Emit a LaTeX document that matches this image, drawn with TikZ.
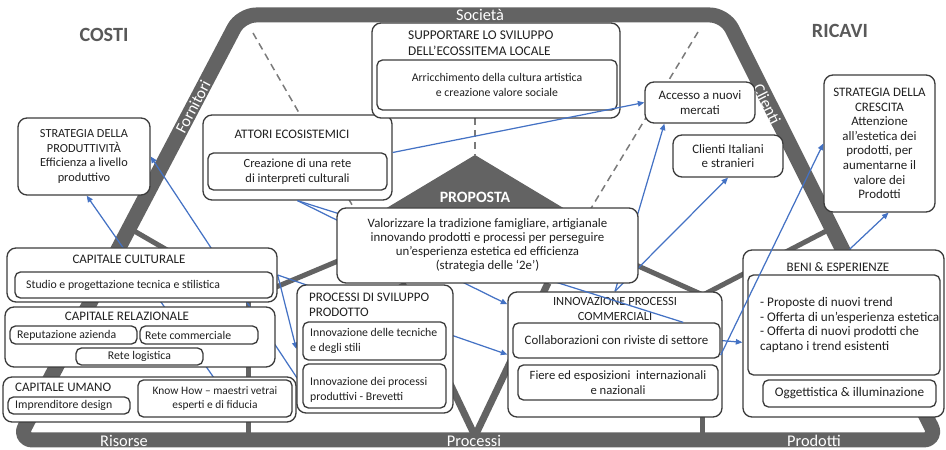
\documentclass[tikz,border=0pt]{standalone}
\usepackage{fontspec}
\setmainfont{Carlito}
\usetikzlibrary{arrows.meta,calc,fit,backgrounds}
\definecolor{bandgray}{RGB}{99,99,99}
\definecolor{boxline}{RGB}{60,60,60}
\definecolor{txtgray}{RGB}{32,32,32}
\definecolor{linkblue}{RGB}{68,114,196}
\definecolor{headgray}{RGB}{89,89,89}

\begin{document}
\begin{tikzpicture}[x=0.2mm,y=-0.2mm,>={Triangle[length=1.3mm,width=1.1mm]},
  every node/.style={font=\fontsize{6.7}{8.2}\selectfont, text=txtgray},
  bigtxt/.style={font=\fontsize{7.35}{8.3}\selectfont},
  captxt/.style={font=\fontsize{7.4}{8.6}\selectfont},
  frame/.style={draw=boxline, fill=white, line width=0.75pt, rounded corners=1.8mm, inner sep=0pt},
  inbox/.style={frame, rounded corners=1.1mm},
  band/.style={draw=bandgray, line width=3mm, rounded corners=3mm, line join=round},
  spoke/.style={draw=bandgray, line width=1mm},
  dashline/.style={draw=bandgray!85, line width=0.85pt, dash pattern=on 4pt off 2.8pt},
  bandlbl/.style={font=\fontsize{9.3}{9.3}\selectfont, text=white},
  head/.style={font=\bfseries\fontsize{11.5}{12}\selectfont, text=headgray},
  link/.style={draw=linkblue, line width=0.7pt}]
  \useasboundingbox (0,0) rectangle (946,450);

  % frame of the canvas
  \begin{scope}[on background layer]
    \draw[band] (18,440) -- (241,15) -- (725,15) -- (938,440) -- cycle;
    \draw[spoke] (129,228) -- (250,298) -- (400,235);
    \draw[spoke] (832,228) -- (703,295) -- (580,240);
    \draw[spoke, line width=1.4mm, line join=miter] (402,283) -- (475,436) -- (548,283);
    \draw[spoke] (248,300) -- (248,436);
    \draw[spoke] (702,400) -- (702,436);
    \fill[bandgray] (475,155) -- (380,212) -- (570,212) -- cycle;
    \draw[dashline] (253,33) -- (355,210);
    \draw[dashline] (475,118) -- (475,156);
    \draw[dashline] (698,32) -- (590,210);
  \end{scope}

  \node[head] (costi) at (104,35) {COSTI};
  \node[head] (ricavi) at (840,31) {RICAVI};
  \node[bandlbl] (soc) at (480,15) {Società};
  \node[bandlbl, rotate=62.3] (forn) at (193,107) {Fornitori};
  \node[bandlbl, rotate=-63.4] (cli) at (767,104) {Clienti};
  \node[bandlbl] (ris) at (124,441) {Risorse};
  \node[bandlbl] (proc) at (474,441) {Processi};
  \node[bandlbl] (prod) at (814,441) {Prodotti};
  \node[head, font=\bfseries\fontsize{9}{9}\selectfont, text=white] (propT) at (475,197) {PROPOSTA};

  % risorse
  \node[frame, fit={(18,118) (150,195)}] (sprod) {};
  \node[align=center, font=\fontsize{7}{8.3}\selectfont] (sprodT) at (sprod.center) {STRATEGIA DELLA\\PRODUTTIVITÀ\\Efficienza a livello\\produttivo};
  \node[frame, fit={(7,248) (277,302)}] (cult) {};
  \node[captxt] (cultT) at (129,259) {CAPITALE CULTURALE};
  \node[inbox, fit={(15,272) (273,298)}] (cultA) {};
  \node[anchor=west] (cultAT) at (20,285) {Studio e progettazione tecnica e stilistica};
  \node[frame, fit={(5,307) (275,367)}] (rel) {};
  \node[captxt] (relT) at (127,316) {CAPITALE RELAZIONALE};
  \node[inbox, fit={(10,326) (137,344)}] (rep) {};
  \node[anchor=west] (repT) at (11,335) {Reputazione azienda};
  \node[inbox, fit={(140,326) (258,344)}] (comm) {};
  \node[anchor=west] (commT) at (139,335) {Rete commerciale};
  \node[inbox, fit={(76,348) (203,365)}] (logi) {};
  \node (logiT) at (logi.center) {Rete logistica};
  \node[frame, fit={(3,377) (296,422)}] (uman) {};
  \node[captxt, anchor=west] (umanT) at (9,387) {CAPITALE UMANO};
  \node[inbox, fit={(8,397) (130,414)}] (impr) {};
  \node[anchor=west] (imprT) at (9,405.5) {Imprenditore design};
  \node[inbox, fit={(138,380) (292,417)}] (know) {};
  \node[align=center, font=\fontsize{6.5}{8.2}\selectfont] (knowT) at (know.center) {Know How – maestri vetrai\\esperti e di fiducia};

  % ecosistema
  \node[frame, fit={(203,115) (392,200)}] (attori) {};
  \node[captxt] (attoriT) at (292,134) {ATTORI ECOSISTEMICI};
  \node[inbox, fit={(208,153) (387,190)}] (attoriA) {};
  \node[align=center, font=\fontsize{7.1}{8.3}\selectfont] (attoriAT) at (attoriA.center) {Creazione di una rete\\di interpreti culturali};
  \node[frame, fit={(372,23) (620,118)}] (supp) {};
  \node[anchor=west, align=left, font=\fontsize{7.6}{9}\selectfont] (suppT) at (402,43) {SUPPORTARE LO SVILUPPO\\DELL'ECOSSITEMA LOCALE};
  \node[inbox, fit={(377,60) (617,110)}] (suppA) {};
  \node[align=center] (suppAT) at (suppA.center) {Arricchimento della cultura artistica\\e creazione valore sociale};

  % clienti e ricavi
  \node[frame, fit={(645,82) (755,123)}] (accesso) {};
  \node[align=center, bigtxt] (accessoT) at (accesso.center) {Accesso a nuovi\\mercati};
  \node[frame, fit={(673,135) (783,177)}] (clienti) {};
  \node[align=center, bigtxt] (clientiT) at (clienti.center) {Clienti Italiani\\e stranieri};
  \node[frame, fit={(824,75) (935,212)}] (scresc) {};
  \node[align=center, bigtxt] (screscT) at (scresc.center) {STRATEGIA DELLA\\CRESCITA\\Attenzione\\all'estetica dei\\prodotti, per\\aumentarne il\\valore dei\\Prodotti};

  % processi
  \node[frame, fit={(297,285) (453,413)}] (procS) {};
  \node[captxt, anchor=west, align=left] (procST) at (303,305) {PROCESSI DI SVILUPPO\\PRODOTTO};
  \node[inbox, fit={(303,322) (446,360)}] (procA) {};
  \node[anchor=west, align=left] (procAT) at (304,341) {Innovazione delle tecniche\\e degli stili};
  \node[inbox, fit={(303,364) (446,408)}] (procB) {};
  \node[anchor=west, align=left] (procBT) at (304,390) {Innovazione dei processi\\produttivi - Brevetti};
  \node[frame, fit={(508,292) (722,417)}] (innov) {};
  \node[align=center, font=\fontsize{7.1}{8.4}\selectfont] (innovT) at (615,309) {INNOVAZIONE PROCESSI\\COMMERCIALI};
  \node[inbox, fit={(513,323) (720,358)}] (collab) {};
  \node[bigtxt] (collabT) at (collab.center) {Collaborazioni con riviste di settore};
  \node[inbox, fit={(518,365) (718,400)}] (fiere) {};
  \node[align=center, font=\fontsize{7.2}{8.3}\selectfont] (fiereT) at (fiere.center) {Fiere ed esposizioni~ internazionali\\e nazionali};
  \draw[link] (attori.south) -- ($(collab.north west)!0.82!(collab.north east)$);

  % proposta
  \node[frame, fit={(337,208) (638,283)}] (prop) {};
  \node[align=center, font=\fontsize{7.3}{8}\selectfont] (propA) at (prop.center) {Valorizzare la tradizione famigliare, artigianale\\innovando prodotti e processi per perseguire\\un'esperienza estetica ed efficienza\\(strategia delle `2e')};

  % prodotti
  \node[frame, fit={(743,250) (944,417)}] (beni) {};
  \node[captxt] (beniT) at (838,267) {BENI \& ESPERIENZE};
  \node[inbox, fit={(748,275) (940,375)}] (beniA) {};
  \node[anchor=west, align=left, font=\fontsize{7.5}{8.5}\selectfont] (beniAT) at (754,325) {- Proposte di nuovi trend\\- Offerta di un'esperienza estetica\\- Offerta di nuovi prodotti che\\captano i trend esistenti};
  \node[inbox, fit={(763,380) (936,407)}] (beniB) {};
  \node[font=\fontsize{7.5}{8.5}\selectfont] (beniBT) at (beniB.center) {Oggettistica \& illuminazione};

  \draw[link,->] (collab.-8) -- (scresc.west);
  \draw[link,->] (attori.3) -- (accesso.west);

  % links behind the boxes
  \begin{scope}[on background layer]
    \draw[link,->] (know.north) -- ($(sprod.south west)!0.52!(sprod.south east)$);
    \draw[link,->] (procB.west) -- (sprod.east);
    \draw[link,->] (cult.east) -- (innov.west);
    \draw[link,->] (cult.east) -- (procS.west);
    \draw[link,->] (attori.south) -- (innov.155);
    \draw[link,->] (innov.north) -- ($(accesso.south west)!0.18!(accesso.south east)$);
    \draw[link,->] (innov.north) -- (clienti.south);
    \draw[link,->] (collab.east) -- (beni.185);
    \draw[link,->] ($(beni.north west)!0.53!(beni.north east)$) -- ($(scresc.south west)!0.58!(scresc.south east)$);
  \end{scope}
\end{tikzpicture}
\end{document}
